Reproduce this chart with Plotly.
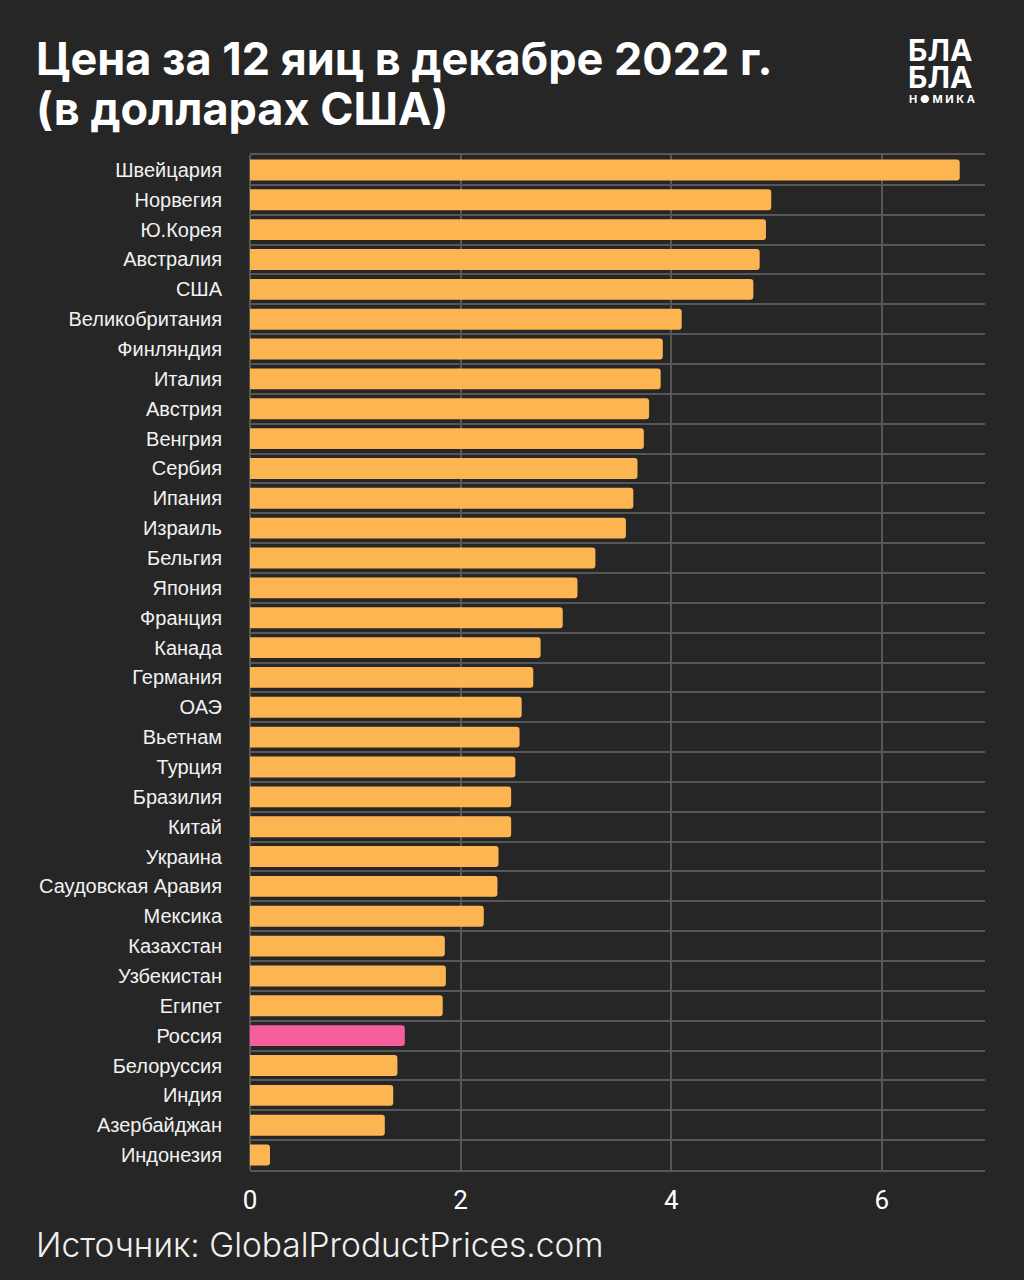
import plotly.graph_objects as go

countries = ["Швейцария", "Норвегия", "Ю.Корея", "Австралия", "США", "Великобритания",
             "Финляндия", "Италия", "Австрия", "Венгрия", "Сербия", "Ипания", "Израиль",
             "Бельгия", "Япония", "Франция", "Канада", "Германия", "ОАЭ", "Вьетнам",
             "Турция", "Бразилия", "Китай", "Украина", "Саудовская Аравия", "Мексика",
             "Казахстан", "Узбекистан", "Египет", "Россия", "Белоруссия", "Индия",
             "Азербайджан", "Индонезия"]
prices = [6.74, 4.95, 4.90, 4.84, 4.78, 4.10,
          3.92, 3.90, 3.79, 3.74, 3.68, 3.64, 3.57,
          3.28, 3.11, 2.97, 2.76, 2.69, 2.58, 2.56,
          2.52, 2.48, 2.48, 2.36, 2.35, 2.22,
          1.85, 1.86, 1.83, 1.47, 1.40, 1.36,
          1.28, 0.19]
x_ticks = [0, 2, 4, 6]

title_lines = ["Цена за 12 яиц в декабре 2022 г.", "(в долларах США)"]
source_text = "Источник: GlobalProductPrices.com"

ORANGE = "#FDB552"
PINK = "#F5609C"
BG = "#262626"
GRID = "#575757"

colors = [PINK if c == "Россия" else ORANGE for c in countries]

fig = go.Figure(go.Bar(
    x=prices, y=countries, orientation="h",
    marker=dict(color=colors, line=dict(width=0), cornerradius=3),
    hoverinfo="x+y",
))

L, R, T, B = 250, 39, 155, 110
PW, PH = 1024 - L - R, 1280 - T - B


def px(xp):
    return (xp - L) / PW


def py(yp):
    return 1 - (yp - T) / PH


annotations = [
    dict(text="<b>" + title_lines[0] + "</b>", x=px(34), y=py(58)),
    dict(text="<b>" + title_lines[1] + "</b>", x=px(34), y=py(108)),
]
for a in annotations:
    a.update(xref="paper", yref="paper", xanchor="left", yanchor="middle", showarrow=False,
             font=dict(family="Inter", size=45, color="#ffffff", weight=800))

annotations += [
    dict(text=source_text, xref="paper", yref="paper",
         x=px(34), y=py(1245), xanchor="left", yanchor="middle",
         showarrow=False,
         font=dict(family="Inter", size=33.5, color="#f0f0f0", weight=300)),
    dict(text="<b>БЛА</b>", xref="paper", yref="paper",
         x=px(906), y=py(50), xanchor="left", yanchor="middle",
         showarrow=False,
         font=dict(family="Inter", size=30, color="#ffffff", weight=800)),
    dict(text="<b>БЛА</b>", xref="paper", yref="paper",
         x=px(906), y=py(77), xanchor="left", yanchor="middle",
         showarrow=False,
         font=dict(family="Inter", size=30, color="#ffffff", weight=800)),
    dict(text="<b>Н ● М И К А</b>", xref="paper", yref="paper",
         x=px(907), y=py(99), xanchor="left", yanchor="middle",
         showarrow=False,
         font=dict(family="Inter", size=11, color="#ffffff", weight=800)),
]

fig.update_layout(
    width=1024, height=1280,
    paper_bgcolor=BG, plot_bgcolor=BG,
    margin=dict(l=L, r=R, t=T, b=B),
    bargap=0.30,
    showlegend=False,
    xaxis=dict(
        range=[0, 6.98], tickvals=x_ticks, ticktext=[str(v) for v in x_ticks],
        showgrid=True, gridcolor=GRID, gridwidth=2,
        zeroline=True, zerolinecolor=GRID, zerolinewidth=2,
        showline=True, linecolor=GRID, linewidth=2, mirror=True, ticks="",
        tickfont=dict(family="Liberation Sans Narrow, Roboto", size=26, color="#ffffff"),
        ticklabelstandoff=6,
        fixedrange=True,
    ),
    yaxis=dict(
        type="category", categoryorder="array", categoryarray=countries,
        autorange="reversed",
        tickson="boundaries",
        showgrid=True, gridcolor=GRID, gridwidth=2,
        showline=False, ticks="",
        tickfont=dict(family="Liberation Sans", size=20, color="#f2f2f2"),
        ticklabelstandoff=27,
        fixedrange=True,
    ),
    annotations=annotations,
)

fig.write_html("out.html", config={"displayModeBar": False},
               post_script="document.body.style.margin='0';document.body.style.background='#262626';")
